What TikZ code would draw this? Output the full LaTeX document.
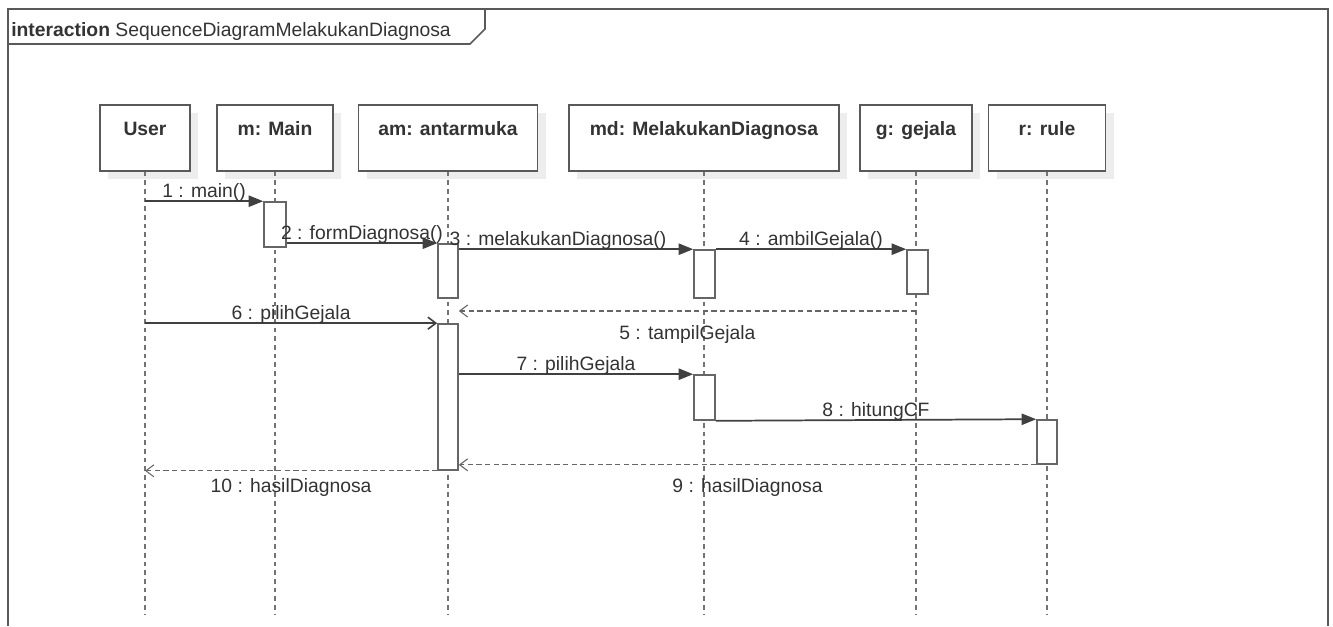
\documentclass[tikz,border=0pt]{standalone}
\usepackage{fontspec}
\setmainfont{Liberation Sans}
\usetikzlibrary{arrows.meta}
\usetikzlibrary{positioning}
\usetikzlibrary{fit}
\usetikzlibrary{shadows}

\tikzset{
  head/.style={draw=black!65, line width=1.2pt, fill=white, anchor=north,
    inner sep=0pt, text height=23.25pt, text depth=26.25pt,
    font=\fontsize{14.5}{16}\selectfont\bfseries, text=black!80,
    drop shadow={shadow xshift=6pt, shadow yshift=-6pt, fill=black!7, opacity=1}},
  life/.style={draw=black!55, line width=0.8pt, dash pattern=on 3.5pt off 3pt},
  act/.style={draw=black!60, line width=1.2pt, fill=white, inner sep=0pt},
  msg/.style={draw=black!75, line width=1.3pt, -{Triangle[length=11pt,width=8.5pt]}},
  async/.style={draw=black!75, line width=1.2pt, -{Straight Barb[length=6pt,width=9pt]}},
  ret/.style={draw=black!60, line width=0.8pt, dash pattern=on 4pt off 2.5pt, -{Straight Barb[length=6pt,width=9pt]}},
  lbl/.style={font=\fontsize{14.5}{16}\selectfont, text=black!80, inner sep=0pt, anchor=base},
}

\begin{document}
\begin{tikzpicture}[x=0.75pt, y=-0.75pt]
	\useasboundingbox (0,0) rectangle (1333,626);
	% frame
	\draw[black!65, line width=1.8pt] (8,626) -- (8,9) -- (1328,9) -- (1328,626);
	\draw[black!65, line width=1.2pt] (8,44) -- (470,44) -- (485,29) -- (485,9);
	\node[anchor=base west, inner sep=0pt, font=\fontsize{14.5}{16}\selectfont, text=black!80] (title) at (11,36) {\textbf{interaction} SequenceDiagramMelakukanDiagnosa};
	% lifelines
	\node[head, minimum width=67.5pt] (user) at (145,104) {User};
	\node[head, minimum width=87pt] (m) at (275,104) {m: Main};
	\node[head, minimum width=134.25pt] (am) at (448,104) {am: antarmuka};
	\node[head, minimum width=202.5pt] (md) at (704,104) {md: MelakukanDiagnosa};
	\node[head, minimum width=84pt] (g) at (916,104) {g: gejala};
	\node[head, minimum width=87.75pt] (r) at (1047,104) {r: rule};
	\coordinate (bot) at (0,615);
	\foreach \n in {user,m,am,md,g,r}
		\draw[life] (\n.south) -- (\n.south |- bot);
	% activations
	\node[act, fit={(264,202) (286,247)}] (m1) {};
	\node[act, fit={(438,244) (458,298)}] (am1) {};
	\node[act, fit={(694,250) (715,298)}] (md1) {};
	\node[act, fit={(907,250) (928,294)}] (g1) {};
	\node[act, fit={(438,324) (458,470)}] (am2) {};
	\node[act, fit={(694,375) (715,420)}] (md2) {};
	\node[act, fit={(1037,420) (1057,464)}] (r1) {};
	% messages
	\coordinate (y5) at (0,311);
	\draw[msg] (user.south |- m1.north) -- node[lbl, yshift=3pt] {1 : main()} (m1.north west);
	\draw[msg] (m1.east |- am1.north) -- node[lbl, yshift=3pt] {2 : formDiagnosa()} (am1.north west);
	\draw[msg] (am1.north east |- md1.north) -- node[lbl, yshift=3pt, xshift=-13.5pt] {3 : melakukanDiagnosa()} (md1.north west);
	\draw[msg] (md1.north east) -- node[lbl, yshift=3pt] {4 : ambilGejala()} (g1.north west);
	\draw[ret] (g.south |- y5) -- node[lbl, yshift=-21pt] {5 : tampilGejala} (am1.east |- y5);
	\draw[async] (user.south |- am2.north) -- node[lbl, yshift=3pt] {6 : pilihGejala} (am2.north west);
	\draw[msg] (am2.east |- md2.north) -- node[lbl, yshift=3pt] {7 : pilihGejala} (md2.north west);
	\draw[msg] (md2.south east) -- node[lbl, yshift=3pt] {8 : hitungCF} (r1.north west);
	\draw[ret] (r1.south west) -- node[lbl, yshift=-21pt] {9 : hasilDiagnosa} (am2.east |- r1.south);
	\draw[ret] (am2.south west) -- node[lbl, yshift=-16.5pt] {10 : hasilDiagnosa} (user.south |- am2.south);
\end{tikzpicture}
\end{document}
